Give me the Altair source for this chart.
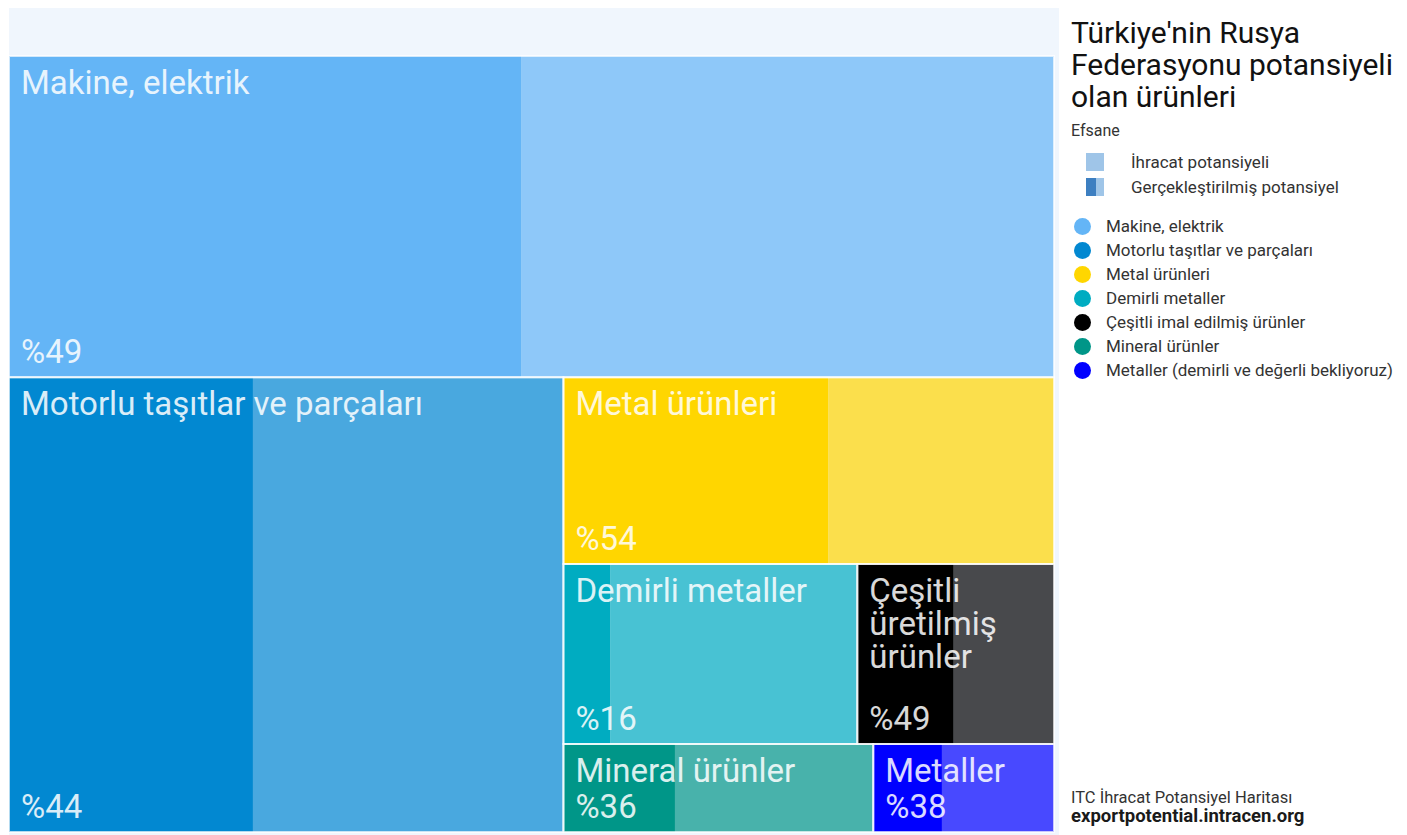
import textwrap
import altair as alt
import pandas as pd

# ---------------- data ----------------
categories = [
    "Makine, elektrik",
    "Motorlu taşıtlar ve parçaları",
    "Metal ürünleri",
    "Demirli metaller",
    "Çeşitli imal edilmiş ürünler",
    "Mineral ürünler",
    "Metaller (demirli ve değerli bekliyoruz)",
]
tile_labels = [
    "Makine, elektrik",
    "Motorlu taşıtlar ve parçaları",
    "Metal ürünleri",
    "Demirli metaller",
    "Çeşitli üretilmiş ürünler",
    "Mineral ürünler",
    "Metaller",
]
potential = [414, 311, 113, 65.3, 43.7, 33.6, 19.6]      # export potential (relative size)
realized_pct = [49, 44, 54, 16, 49, 36, 38]              # realized potential, %
colors = ["#64b5f6", "#0288d1", "#ffd600", "#00acc1", "#000000", "#009688", "#0000ff"]

# treemap strip structure: number of tiles per strip and the side it is laid against
row_sizes = [1, 1, 1, 2, 2]
row_sides = ["top", "left", "top", "top", "top"]

title_text = "Türkiye'nin Rusya\nFederasyonu potansiyeli\nolan ürünleri"
legend_header = "Efsane"
legend_potential = "İhracat potansiyeli"
legend_realized = "Gerçekleştirilmiş potansiyel"
source_line = "ITC İhracat Potansiyel Haritası"
source_url = "exportpotential.intracen.org"

# ---------------- layout ----------------
PLOT_W, PLOT_H = 1050, 827
BOX = (0, 48, 1045, 824)
LABEL_FONT = 33


def strip_layout(values, sizes, sides, x0, y0, x1, y1):
    rects = []
    rem = float(sum(values))
    i = 0
    for n, side in zip(sizes, sides):
        grp = values[i:i + n]
        s = float(sum(grp))
        if side == "top":
            h = (y1 - y0) * s / rem
            cx = x0
            for v in grp:
                w = (x1 - x0) * v / s
                rects.append((cx, y0, cx + w, y0 + h))
                cx += w
            y0 += h
        else:
            w = (x1 - x0) * s / rem
            cy = y0
            for v in grp:
                h = (y1 - y0) * v / s
                rects.append((x0, cy, x0 + w, cy + h))
                cy += h
            x0 += w
        rem -= s
        i += n
    return rects


def wrap(label, width_px):
    max_chars = max(1, int(width_px / (LABEL_FONT * 0.5)))
    return "\n".join(textwrap.wrap(label, max_chars))


tiles = strip_layout(potential, row_sizes, row_sides, *BOX)

tile_rows, part_rows = [], []
for cat, lab, p, (x0, y0, x1, y1) in zip(categories, tile_labels, realized_pct, tiles):
    tile_rows.append(dict(cat=cat, x0=x0, x1=x1, y0=y0, y1=y1,
                          name=wrap(lab, x1 - x0), pct=f"%{p}"))
    xm = x0 + (x1 - x0) * p / 100.0
    part_rows.append(dict(cat=cat, part="realized", x0=x0, x1=xm, y0=y0, y1=y1))
    part_rows.append(dict(cat=cat, part="remaining", x0=xm, x1=x1, y0=y0, y1=y1))

tiles_df = pd.DataFrame(tile_rows)
parts_df = pd.DataFrame(part_rows)

xs = alt.Scale(domain=[0, PLOT_W], nice=False, zero=False)
ys = alt.Scale(domain=[0, PLOT_H], nice=False, zero=False, reverse=True)
X = alt.X("x0:Q", scale=xs, axis=None)
Y = alt.Y("y0:Q", scale=ys, axis=None)

rects = alt.Chart(parts_df).mark_rect().encode(
    x=X, x2="x1:Q", y=Y, y2="y1:Q",
    color=alt.Color(
        "cat:N",
        scale=alt.Scale(domain=categories, range=colors),
        legend=alt.Legend(
            title=None, orient="none", legendX=1065, legendY=210,
            symbolType="circle", symbolSize=289, symbolStrokeWidth=0,
            symbolOpacity=1, labelFont="Roboto", labelFontSize=17,
            labelColor="#333333", labelOffset=15, rowPadding=6, padding=0,
            labelLimit=400,
        ),
    ),
    opacity=alt.Opacity("part:N", scale=alt.Scale(domain=["realized", "remaining"], range=[1, 0.7]),
                        legend=None),
)

outlines = alt.Chart(tiles_df).mark_rect(
    fillOpacity=0, stroke="#ffffff", strokeWidth=2, strokeOpacity=0.7
).encode(x=X, x2="x1:Q", y=Y, y2="y1:Q")

names = alt.Chart(tiles_df).mark_text(
    align="left", baseline="top", dx=12, dy=12, font="Roboto", fontSize=LABEL_FONT,
    color="#ffffff", opacity=0.85, lineBreak="\n", lineHeight=33,
).encode(x=X, y=Y, text="name:N")

pcts = alt.Chart(tiles_df).mark_text(
    align="left", baseline="alphabetic", dx=12, dy=-14, font="Roboto", fontSize=LABEL_FONT,
    color="#ffffff", opacity=0.85,
).encode(x=X, y=alt.Y("y1:Q", scale=ys, axis=None), text="pct:N")

one = pd.DataFrame({"k": [0]})


def deco_text(txt, x, y, size, color="#333333", weight="normal", baseline="alphabetic", lh=None):
    kw = dict(align="left", baseline=baseline, font="Roboto", fontSize=size,
              color=color, fontWeight=weight, lineBreak="\n")
    if lh:
        kw["lineHeight"] = lh
    return alt.Chart(one).mark_text(**kw).encode(
        x=alt.value(x), y=alt.value(y), text=alt.value(txt))


def deco_rect(x, x2, y, y2, color):
    return alt.Chart(one).mark_rect(color=color).encode(
        x=alt.value(x), x2=alt.value(x2), y=alt.value(y), y2=alt.value(y2))


decor = [
    deco_text(title_text, 1062, 11, 30, color="#111111", baseline="top", lh=32),
    deco_text(legend_header, 1062, 128, 16),
    deco_rect(1077, 1095, 145, 163, "#9fc5e8"),
    deco_text(legend_potential, 1122, 160, 17),
    deco_rect(1077, 1087, 170, 188, "#3d7fc1"),
    deco_rect(1087, 1095, 170, 188, "#9fc5e8"),
    deco_text(legend_realized, 1122, 185, 17),
    deco_text(source_line, 1062, 795, 16.5),
    deco_text(source_url, 1062, 814, 18.5, color="#1a1a1a", weight="bold"),
]

chart = alt.layer(rects, outlines, names, pcts, *decor).properties(
    width=PLOT_W, height=PLOT_H, padding=0
).configure_view(fill="#f0f6fd", strokeWidth=0)

chart.save("out.html", embed_options={"renderer": "svg", "actions": False})
